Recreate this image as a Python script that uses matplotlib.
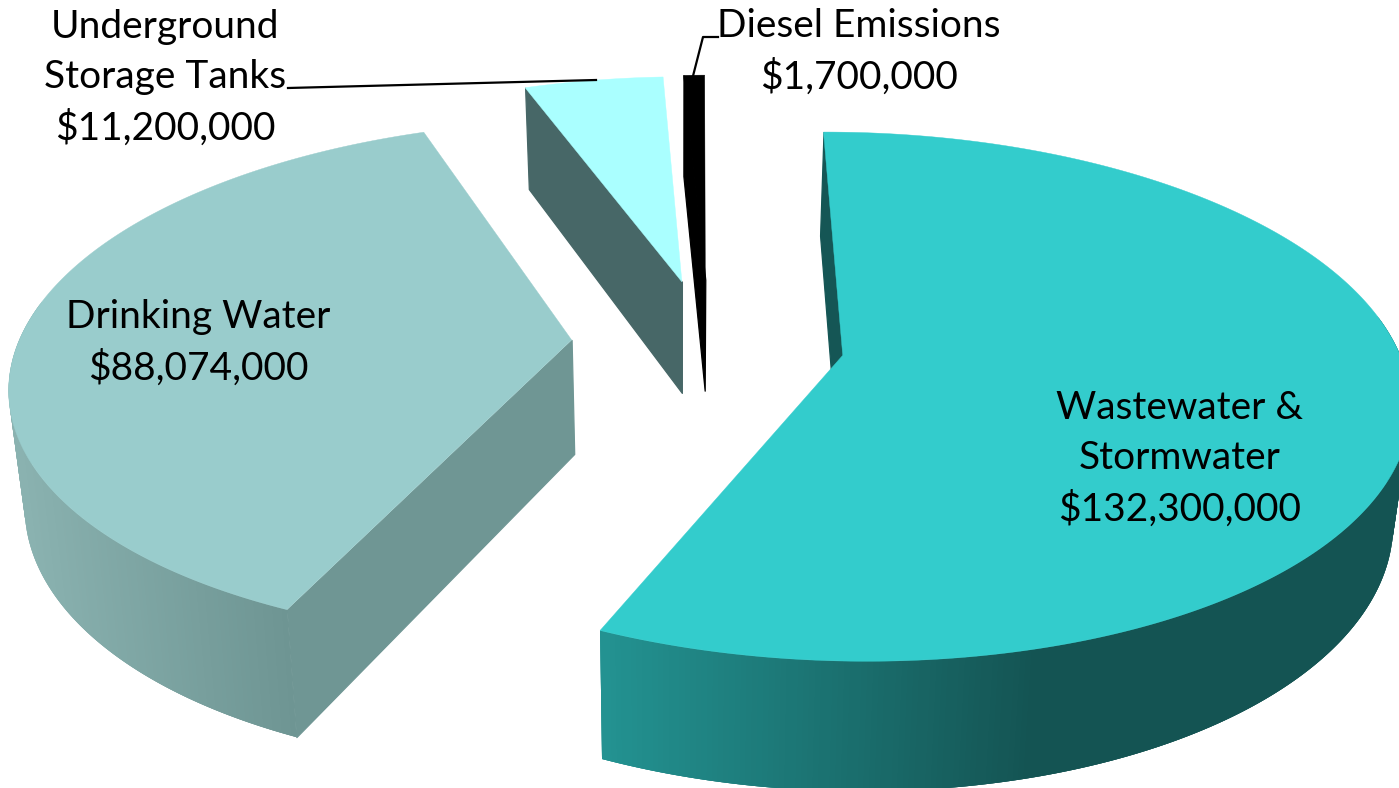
import matplotlib
matplotlib.use("Agg")
import matplotlib.pyplot as plt
from matplotlib.collections import PolyCollection
from matplotlib.colors import to_rgb
import numpy as np

categories = ["Wastewater & Stormwater", "Drinking Water", "Underground Storage Tanks", "Diesel Emissions"]
values = [132300000, 88074000, 11200000, 1700000]
label_lines = [
    "Wastewater &\nStormwater\n$132,300,000",
    "Drinking Water\n$88,074,000",
    "Underground\nStorage Tanks\n$11,200,000",
    "Diesel Emissions\n$1,700,000",
]

# look of the slices
top_colors = ["#33CCCC", "#99CCCC", "#AAFFFF", "#000000"]
side_colors = ["#155655", "#6F9694", "#476767", "#000000"]
wall_left = ["#239392", "#8AB2B0", "#476767", "#000000"]
wall_right = ["#145453", "#6E9593", "#476767", "#000000"]
wall_x = [(601, 1040), (20, 287), (0, 1), (0, 1)]
explode = [(0.2327, -0.052), (-0.256, 0.008), (-0.0584, 0.246), (-0.0145, 0.255)]
label_xy = [(1180, 459), (198, 343), (165, 78), (859, 52)]

# projection of the tilted pie
CX, CY = 713, 342
A, B, K = 553, 254, 0.155
START = 90.2


def top_xy(X, Y):
    w = 1 + K * Y
    return np.column_stack([CX + A * X / w, CY - B * Y / w])


def bottom_xy(p):
    x = 680 + (p[:, 0] - 680) * 0.976
    y = p[:, 1] + 97 + 0.05 * p[:, 1]
    return np.column_stack([x, y])


plt.rcParams["font.family"] = ["Lato", "DejaVu Sans"]
fig = plt.figure(figsize=(13.99, 7.88), dpi=100)
ax = fig.add_axes([0, 0, 1, 1])
ax.set_xlim(0, 1399)
ax.set_ylim(788, 0)
ax.axis("off")

sweeps = np.array(values) / np.sum(values) * 360
a0 = START
for i in range(len(values)):
    a1 = a0 - sweeps[i]
    th = np.radians(np.linspace(a0, a1, max(int(sweeps[i] * 2), 8)))
    ox, oy = explode[i]
    arc = top_xy(ox + np.cos(th), oy + np.sin(th))
    apex = top_xy(np.array([ox]), np.array([oy]))
    arc_b = bottom_xy(arc)
    apex_b = bottom_xy(apex)

    # straight cut wall on the clockwise-start side, the one that faces us
    ax.add_collection(PolyCollection([[arc[0], apex[0], apex_b[0], arc_b[0]]],
                                     facecolors=side_colors[i], edgecolors=side_colors[i], linewidths=0.9))

    # curved outside wall, only the part facing us; quads overlap so no seams show
    quads = []
    cols = []
    c0 = np.array(to_rgb(wall_left[i]))
    c1 = np.array(to_rgb(wall_right[i]))
    n = len(th)
    order = range(n - 1) if i == 0 else range(n - 2, -1, -1)
    for j in order:
        if np.sin(th[j]) > 0.15 and np.sin(th[j + 1]) > 0.15:
            continue
        k = min(j + 3, n - 1) if i == 0 else max(j - 2, 0)
        m = j if i == 0 else j + 1
        quads.append([arc[m], arc[k], arc_b[k], arc_b[m]])
        t = np.clip((arc[j, 0] - wall_x[i][0]) / (wall_x[i][1] - wall_x[i][0]), 0, 1)
        cols.append(c0 + (c1 - c0) * t)
    if quads:
        ax.add_collection(PolyCollection(quads, facecolors=cols, edgecolors="none"))

    # top face
    ax.fill(np.r_[apex[:, 0], arc[:, 0]], np.r_[apex[:, 1], arc[:, 1]], color=top_colors[i], lw=0.3)

    ax.text(label_xy[i][0], label_xy[i][1], label_lines[i], ha="center", va="center",
            fontsize=28, color="black", linespacing=1.47)
    a0 = a1

# leader lines
ax.plot([288, 596], [88, 80], color="black", lw=1.6)
ax.plot([718, 703, 693], [37, 37, 76], color="black", lw=1.6)

fig.savefig("out.png", dpi=100)
